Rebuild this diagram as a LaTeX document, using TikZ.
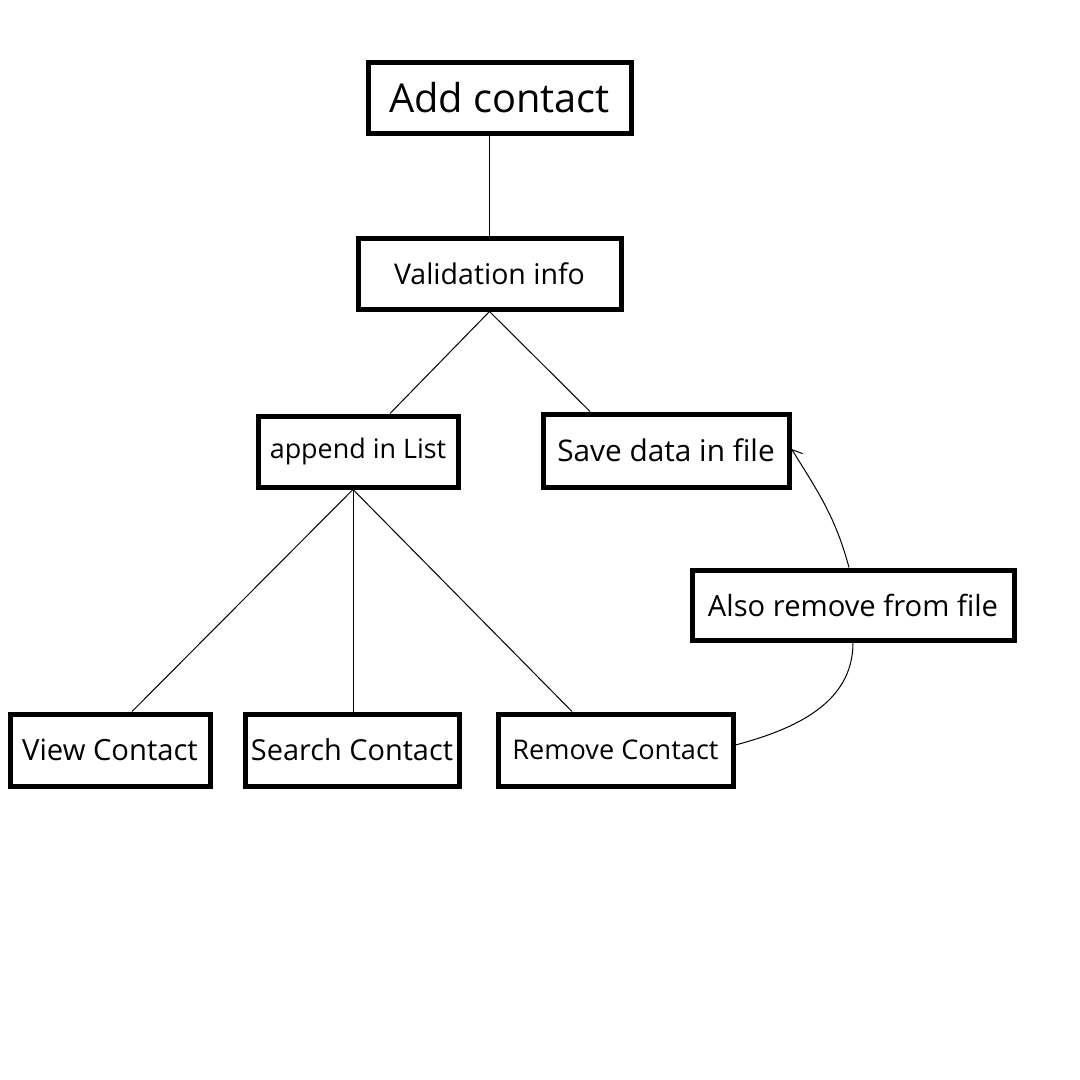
\documentclass[tikz,border=0pt]{standalone}
\usepackage{fontspec}
\setmainfont{Open Sans}
\usetikzlibrary{arrows.meta,positioning}
\tikzset{
  box/.style={
    draw=black,
    line width=5pt,
    rectangle,
    inner sep=0pt,
    align=center
  },
  link/.style={line width=1pt},
  curvy/.style={line width=1pt}
}

\begin{document}
\begin{tikzpicture}[x=1pt,y=-1pt]
  \useasboundingbox (0,0) rectangle (1080,1080);
  \fill[white] (0,0) rectangle (1080,1080);
  % boxes
  \node[box, minimum width=263pt, minimum height=71pt, font=\fontsize{39.8}{46}\selectfont]
    (add) at (499.5,97.5) {Add contact};
  \node[box, minimum width=263pt, minimum height=71pt, font=\fontsize{28.5}{34}\selectfont]
    (valid) at (489.5,273.5) {Validation info};
  \node[box, minimum width=200pt, minimum height=71pt, font=\fontsize{26.9}{32}\selectfont]
    (append) at (358,451.5) {append in List};
  \node[box, minimum width=246pt, minimum height=73pt, font=\fontsize{29.8}{35}\selectfont]
    (save) at (666,450.5) {Save data in file};
  \node[box, minimum width=322pt, minimum height=70pt, font=\fontsize{29.2}{35}\selectfont]
    (also) at (853,605) {Also remove from file};
  \node[box, minimum width=200pt, minimum height=72pt, font=\fontsize{29.2}{35}\selectfont]
    (view) at (110,750) {View Contact};
  \node[box, minimum width=214pt, minimum height=72pt, font=\fontsize{28.9}{35}\selectfont]
    (search) at (352,750) {Search Contact};
  \node[box, minimum width=235pt, minimum height=72pt, font=\fontsize{27.1}{32}\selectfont]
    (remove) at (615.5,750) {Remove Contact};
  % tree links
  \draw[link] (valid.north) -- (valid.north |- add.south);
  \draw[link] (valid.south) -- ([xshift=32pt]append.north);
  \draw[link] (valid.south) -- ([xshift=-76pt]save.north);
  \draw[link] ([xshift=-5pt]append.south) -- ([xshift=22pt]view.north);
  \draw[link] ([xshift=-5pt]append.south) -- ([xshift=1pt]search.north);
  \draw[link] ([xshift=-5pt]append.south) -- ([xshift=-43.5pt]remove.north);
  % file side
  \draw[curvy] ([yshift=5pt]remove.east) to[out=15, in=-90] (also.south);
  \draw[curvy, -{Straight Barb[length=9pt,width=14pt]}]
    ([xshift=-4pt]also.north) to[out=105, in=-58] ([yshift=1.5pt]save.east);
\end{tikzpicture}
\end{document}
